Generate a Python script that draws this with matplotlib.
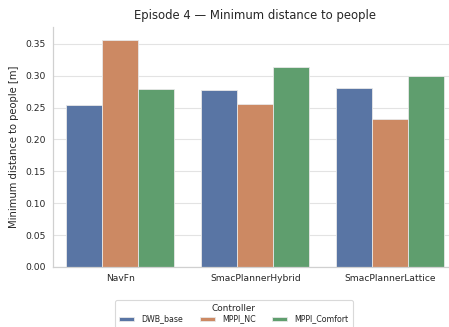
import numpy as np
import matplotlib
matplotlib.use("Agg")
import matplotlib.pyplot as plt
import seaborn as sns

planners = ["NavFn", "SmacPlannerHybrid", "SmacPlannerLattice"]
controllers = ["DWB_base", "MPPI_NC", "MPPI_Comfort"]
dwb_base = [0.254, 0.277, 0.280]
mppi_nc = [0.356, 0.255, 0.232]
mppi_comfort = [0.279, 0.314, 0.299]
colors = ["#5975a4", "#cc8963", "#5f9e6e"]

sns.set_theme(style="whitegrid")
plt.rcParams["font.family"] = ["DejaVu Sans"]

W, H = 449, 327
fig = plt.figure(figsize=(W / 100, H / 100), dpi=100)
ax = fig.add_axes([0.118, 0.1835, 0.9015, 0.7335])

x = np.arange(len(planners))
w = 0.8 / len(controllers)
for i, (name, vals) in enumerate(zip(controllers, [dwb_base, mppi_nc, mppi_comfort])):
    ax.bar(x + (i - 1) * w, vals, width=w, color=colors[i], label=name,
           edgecolor="#e8e8e8", linewidth=0.6, zorder=2)

yt = np.arange(0, 0.36, 0.05)
ax.set_xlim(-0.5, 2.5)
ax.set_ylim(0, 0.376)
ax.set_yticks(yt)
ax.set_yticklabels([f"{v:.2f}" for v in yt])
ax.set_xticks(x)
ax.set_xticklabels(planners)
ax.tick_params(labelsize=6.6, colors="#262626", length=0, pad=5)
ax.grid(axis="x", visible=False)
ax.grid(axis="y", color="#e3e3e3", linewidth=0.8)
ax.set_axisbelow(True)
for s in ["top", "right"]:
    ax.spines[s].set_visible(False)
for s in ["left", "bottom"]:
    ax.spines[s].set_color("#d0d0d0")
    ax.spines[s].set_linewidth(0.9)

ax.set_ylabel("Minimum distance to people [m]", fontsize=7.2, color="#262626", labelpad=5)
ax.set_title("Episode 4 \u2014 Minimum distance to people", fontsize=8.4, color="#262626", pad=6)

handles, labels = ax.get_legend_handles_labels()
leg = fig.legend(handles, labels, title="Controller", loc="upper center",
                 bbox_to_anchor=(234 / W, 1 - 300 / H), bbox_transform=fig.transFigure,
                 ncol=3, fontsize=5.7, title_fontsize=6.4, frameon=True,
                 handlelength=1.9, handleheight=0.4, handletextpad=0.9,
                 columnspacing=2.1, borderpad=0.5, labelspacing=0.2,
                 borderaxespad=0)
leg.get_frame().set_edgecolor("#d0d0d0")
leg.get_frame().set_linewidth(0.8)

fig.savefig("out.png", dpi=100)
